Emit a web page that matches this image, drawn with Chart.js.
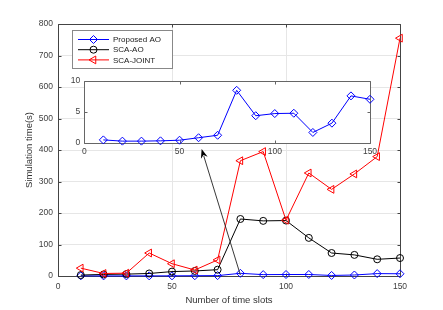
<!DOCTYPE html>
<html><head><meta charset="utf-8">
<script src="https://cdn.jsdelivr.net/npm/chart.js@4"></script>
<style>
html,body{margin:0;padding:0;background:#fff;}
#wrap{position:relative;width:443px;height:310px;overflow:hidden;}
#main{position:absolute;left:0;top:0;}
#inset{position:absolute;left:60px;top:70px;}
</style></head><body>
<div id="wrap"><canvas id="main" width="443" height="310"></canvas><canvas id="inset" width="330" height="95"></canvas></div>
<script>
// ---- data ----
const timeSlots = [10,20,30,40,50,60,70,80,90,100,110,120,130,140,150];
const proposedAO = [0.5,0.3,0.3,0.35,0.45,0.85,1.25,8.5,4.4,4.75,4.8,1.7,3.2,7.6,7.05];
const scaAO = [3,5,6,8,14,16,20,181,175,176,121,73,67,53,57];
const scaJoint = [25,8,9,73,39,19,51,366,395,177,327,275,324,379,755];
const seriesNames = ['Proposed AO','SCA-AO','SCA-JOINT'];
const xTicksMain = [0,50,100,150];
const yTicksMain = [0,100,200,300,400,500,600,700,800];
const yTicksInset = [0,5,10];
const arrowFrom = [80,3];   // data units, main axes
const arrowTo = [63,403];

Chart.defaults.font.family = "'Liberation Sans', Arial, sans-serif";
Chart.defaults.color = '#404040';

const toPts = ys => timeSlots.map((x,i)=>({x:x,y:ys[i]}));

function mkDatasets(forInset){
  const base = {borderWidth:1, pointBorderWidth:1, pointBackgroundColor:'rgba(0,0,0,0)', clip:false, tension:0};
  const ds = [
    Object.assign({}, base, {label:seriesNames[0], data:toPts(proposedAO), borderColor:'#0000ff', pointBorderColor:'#0000ff', pointStyle:'rectRot', pointRadius:4, order:3}),
  ];
  if(!forInset){
    ds.push(Object.assign({}, base, {label:seriesNames[1], data:toPts(scaAO), borderColor:'#000000', pointBorderColor:'#000000', pointStyle:'circle', pointRadius:3.5, order:2}));
    ds.push(Object.assign({}, base, {label:seriesNames[2], data:toPts(scaJoint), borderColor:'#ff0000', pointBorderColor:'#ff0000', pointStyle:'triangle', pointRotation:-90, pointRadius:4.5, order:1}));
  }
  return ds;
}

const framePlugin = {
  id:'frame',
  beforeDatasetsDraw(chart, args, opts){
    const a = chart.chartArea, ctx = chart.ctx;
    ctx.save();
    ctx.strokeStyle = opts.color || '#444';
    ctx.lineWidth = 1;
    const L=Math.round(a.left)+0.5, R=Math.round(a.right)+0.5, T=Math.round(a.top)+0.5, B=Math.round(a.bottom)+0.5;
    ctx.beginPath();
    ctx.rect(L,T,R-L,B-T);
    ctx.stroke();
    const tl = 3;
    ctx.beginPath();
    chart.scales.x.ticks.forEach(t=>{
      const px = Math.round(chart.scales.x.getPixelForValue(t.value))+0.5;
      ctx.moveTo(px,B); ctx.lineTo(px,B-tl);
      ctx.moveTo(px,T); ctx.lineTo(px,T+tl);
    });
    chart.scales.y.ticks.forEach(t=>{
      const py = Math.round(chart.scales.y.getPixelForValue(t.value))+0.5;
      ctx.moveTo(L,py); ctx.lineTo(L+tl,py);
      ctx.moveTo(R,py); ctx.lineTo(R-tl,py);
    });
    ctx.stroke();
    ctx.restore();
  }
};

const bgPlugin = {
  id:'areaBg',
  beforeDraw(chart, args, opts){
    if(!opts.color) return;
    const a = chart.chartArea, ctx = chart.ctx;
    ctx.save(); ctx.fillStyle = opts.color;
    ctx.fillRect(a.left, a.top, a.right-a.left, a.bottom-a.top);
    ctx.restore();
  }
};

const legendPlugin = {
  id:'boxLegend',
  afterDraw(chart, args, opts){
    if(!opts.show) return;
    const ctx = chart.ctx;
    const bx=72.5, by=30.5, bw=100, bh=38;
    ctx.save();
    ctx.fillStyle='#fff'; ctx.fillRect(bx,by,bw,bh);
    ctx.strokeStyle='#888'; ctx.lineWidth=1; ctx.strokeRect(bx,by,bw,bh);
    ctx.font = "8px 'Liberation Sans', Arial, sans-serif";
    ctx.textBaseline='middle';
    chart.data.datasets.forEach((d,i)=>{
      const y = 39.5 + i*10.2;
      ctx.strokeStyle = d.borderColor; ctx.lineWidth=1;
      ctx.beginPath(); ctx.moveTo(78,y); ctx.lineTo(109,y); ctx.stroke();
      ctx.fillStyle = 'rgba(0,0,0,0)';
      ctx.strokeStyle = d.borderColor;
      Chart.helpers.drawPoint(ctx, {pointStyle:d.pointStyle, rotation:d.pointRotation||0, radius:d.pointRadius, borderWidth:1}, 93.5, y);
      ctx.fillStyle='#1a1a1a';
      ctx.fillText(d.label, 113, y+0.5);
    });
    ctx.restore();
  }
};

const arrowPlugin = {
  id:'arrow',
  afterDraw(chart, args, opts){
    if(!opts.show) return;
    const ctx = chart.ctx, xs = chart.scales.x, ys = chart.scales.y;
    const x1 = xs.getPixelForValue(arrowFrom[0]), y1 = ys.getPixelForValue(arrowFrom[1]);
    const x2 = xs.getPixelForValue(arrowTo[0]), y2 = ys.getPixelForValue(arrowTo[1]);
    const ang = Math.atan2(y2-y1, x2-x1), hl = 9, hw = 3.5;
    ctx.save();
    ctx.strokeStyle='#222'; ctx.lineWidth=0.9;
    ctx.beginPath(); ctx.moveTo(x1,y1);
    ctx.lineTo(x2 - Math.cos(ang)*hl*0.8, y2 - Math.sin(ang)*hl*0.8); ctx.stroke();
    ctx.fillStyle='#000';
    ctx.beginPath();
    ctx.moveTo(x2,y2);
    ctx.lineTo(x2 - Math.cos(ang)*hl + Math.sin(ang)*hw, y2 - Math.sin(ang)*hl - Math.cos(ang)*hw);
    ctx.lineTo(x2 - Math.cos(ang)*hl*0.7, y2 - Math.sin(ang)*hl*0.7);
    ctx.lineTo(x2 - Math.cos(ang)*hl - Math.sin(ang)*hw, y2 - Math.sin(ang)*hl + Math.cos(ang)*hw);
    ctx.closePath(); ctx.fill();
    ctx.restore();
  }
};

const tickFont = {size:8.5};

new Chart(document.getElementById('main'), {
  type:'line',
  data:{datasets:mkDatasets(false)},
  options:{
    responsive:false, animation:false,
    layout:{padding:{left:18, right:43, top:24, bottom:0}},
    plugins:{legend:{display:false}, tooltip:{enabled:false},
      frame:{color:'#444'}, boxLegend:{show:true}, arrow:{show:true}},
    scales:{
      x:{type:'linear', min:0, max:150,
        afterBuildTicks(s){ s.ticks = xTicksMain.map(v=>({value:v})); },
        afterFit(s){ s.height = 34; },
        ticks:{font:tickFont, padding:6, maxRotation:0},
        grid:{color:'#e6e6e6', drawTicks:false},
        border:{display:false},
        title:{display:true, text:'Number of time slots', font:{size:9.5}, color:'#333', padding:{top:2,bottom:4}}
      },
      y:{type:'linear', min:0, max:800,
        afterBuildTicks(s){ s.ticks = yTicksMain.map(v=>({value:v})); },
        afterFit(s){ s.width = 40; },
        ticks:{font:tickFont, padding:5},
        grid:{color:'#e6e6e6', drawTicks:false},
        border:{display:false},
        title:{display:true, text:'Simulation time(s)', font:{size:9.5}, color:'#333', padding:{top:6,bottom:0}}
      }
    }
  },
  plugins:[framePlugin, legendPlugin, arrowPlugin]
});

new Chart(document.getElementById('inset'), {
  type:'line',
  data:{datasets:mkDatasets(true)},
  options:{
    responsive:false, animation:false,
    layout:{padding:{left:0, right:20, top:11, bottom:0}},
    plugins:{legend:{display:false}, tooltip:{enabled:false}, frame:{color:'#666'}, areaBg:{color:'#ffffff'}},
    scales:{
      x:{type:'linear', min:0, max:150,
        afterBuildTicks(s){ s.ticks = xTicksMain.map(v=>({value:v})); },
        afterFit(s){ s.height = 22; },
        ticks:{font:tickFont, padding:4, maxRotation:0},
        grid:{display:false, drawTicks:false},
        border:{display:false}
      },
      y:{type:'linear', min:0, max:10,
        afterBuildTicks(s){ s.ticks = yTicksInset.map(v=>({value:v})); },
        afterFit(s){ s.width = 24.3; },
        ticks:{font:tickFont, padding:4},
        grid:{display:false, drawTicks:false},
        border:{display:false}
      }
    }
  },
  plugins:[bgPlugin, framePlugin]
});
</script>
</body></html>
